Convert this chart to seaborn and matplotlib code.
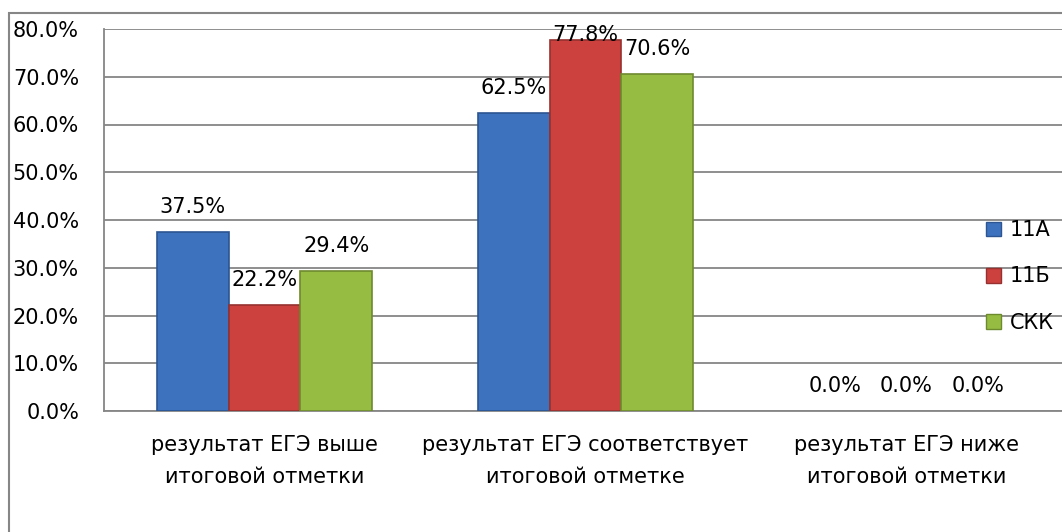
import pandas as pd
import matplotlib.pyplot as plt
import matplotlib.patches as mpatches
from matplotlib.ticker import FuncFormatter, FixedLocator
import seaborn as sns

# data
categories = ["результат ЕГЭ выше\nитоговой отметки",
              "результат ЕГЭ соответствует\nитоговой отметке",
              "результат ЕГЭ ниже\nитоговой отметки"]
groups = ["11А", "11Б", "СКК"]
values_11a = [0.375, 0.625, 0.0]
values_11b = [0.222, 0.778, 0.0]
values_skk = [0.294, 0.706, 0.0]
colors = ["#3D72BE", "#CC403E", "#96BC42"]
edge_colors = ["#2C5591", "#963130", "#6E8A2F"]


def build_frame():
    rows = []
    for g, vals in zip(groups, [values_11a, values_11b, values_skk]):
        for c, v in zip(categories, vals):
            rows.append({"category": c, "group": g, "value": v})
    return pd.DataFrame(rows)


def main():
    df = build_frame()
    sns.set_style("white")
    plt.rcParams["font.family"] = ["DejaVu Sans"]
    plt.rcParams["text.color"] = "black"
    plt.rcParams["xtick.labelcolor"] = "black"
    plt.rcParams["ytick.labelcolor"] = "black"
    fs = 15
    grid_c = "#868686"

    fig = plt.figure(figsize=(10.62, 5.32), dpi=100)
    ax = fig.add_axes([104 / 1062, 121 / 532, 963 / 1062, 382 / 532])

    sns.barplot(data=df, x="category", y="value", hue="group",
                hue_order=groups, order=categories, palette=colors,
                saturation=1, width=0.67, gap=0, ax=ax, zorder=3,
                linewidth=1.2)
    # darker edge per series, a little like the bevelled Excel bars
    for cont, ec in zip(ax.containers, edge_colors):
        for bar in cont:
            bar.set_edgecolor(ec)
            if bar.get_height() == 0:
                bar.set_linewidth(0)

    ax.set_ylim(0, 0.8)
    ax.set_xlim(-0.5, 2.5)
    ax.yaxis.set_major_locator(FixedLocator([i / 10 for i in range(9)]))
    ax.yaxis.set_major_formatter(FuncFormatter(lambda v, p: f"{v * 100:.1f}%"))
    ax.grid(axis="y", color=grid_c, linewidth=1.3, zorder=0)
    ax.set_axisbelow(True)

    # category labels at centres, boundary ticks as minor ticks
    ax.set_xticks(range(len(categories)))
    ax.set_xticklabels(categories, fontsize=fs, linespacing=1.8)
    ax.set_xticks([-0.5, 0.5, 1.5, 2.5], minor=True)
    ax.tick_params(axis="x", which="major", length=0, pad=17)
    ax.tick_params(axis="x", which="minor", length=8, width=1.3,
                   color=grid_c, direction="out")
    ax.tick_params(axis="y", length=8, width=1.3, color=grid_c,
                   direction="out", pad=10, labelsize=fs)

    ax.set_xlabel("")
    ax.set_ylabel("")
    for s in ["top", "right"]:
        ax.spines[s].set_visible(False)
    for s in ["left", "bottom"]:
        ax.spines[s].set_color(grid_c)
        ax.spines[s].set_linewidth(1.3)

    # value labels above the bars
    for cont in ax.containers:
        for bar in cont:
            v = bar.get_height()
            y = min(v + 0.052, 0.787)
            ax.text(bar.get_x() + bar.get_width() / 2, y, f"{v * 100:.1f}%",
                    ha="center", va="center", fontsize=fs, zorder=5,
                    clip_on=False)

    ax.legend_.remove()
    handles = [mpatches.Patch(facecolor=c, edgecolor=e, label=g)
               for c, e, g in zip(colors, edge_colors, groups)]
    fig.legend(handles=handles, loc="center left",
               bbox_to_anchor=(986 / 1062, 1 - 276.5 / 532), frameon=False,
               fontsize=fs, handlelength=0.7, handleheight=0.7,
               handletextpad=0.45, labelspacing=1.25, borderpad=0,
               borderaxespad=0)

    # outer chart border (runs past the right and bottom edges in the source)
    fig.patches.append(mpatches.Rectangle((9 / 1062, -0.1), 1.2, 1.1 - 13 / 532,
                                          transform=fig.transFigure,
                                          fill=False, edgecolor=grid_c,
                                          linewidth=1.5))

    fig.savefig("out.png", dpi=100)


if __name__ == "__main__":
    main()
